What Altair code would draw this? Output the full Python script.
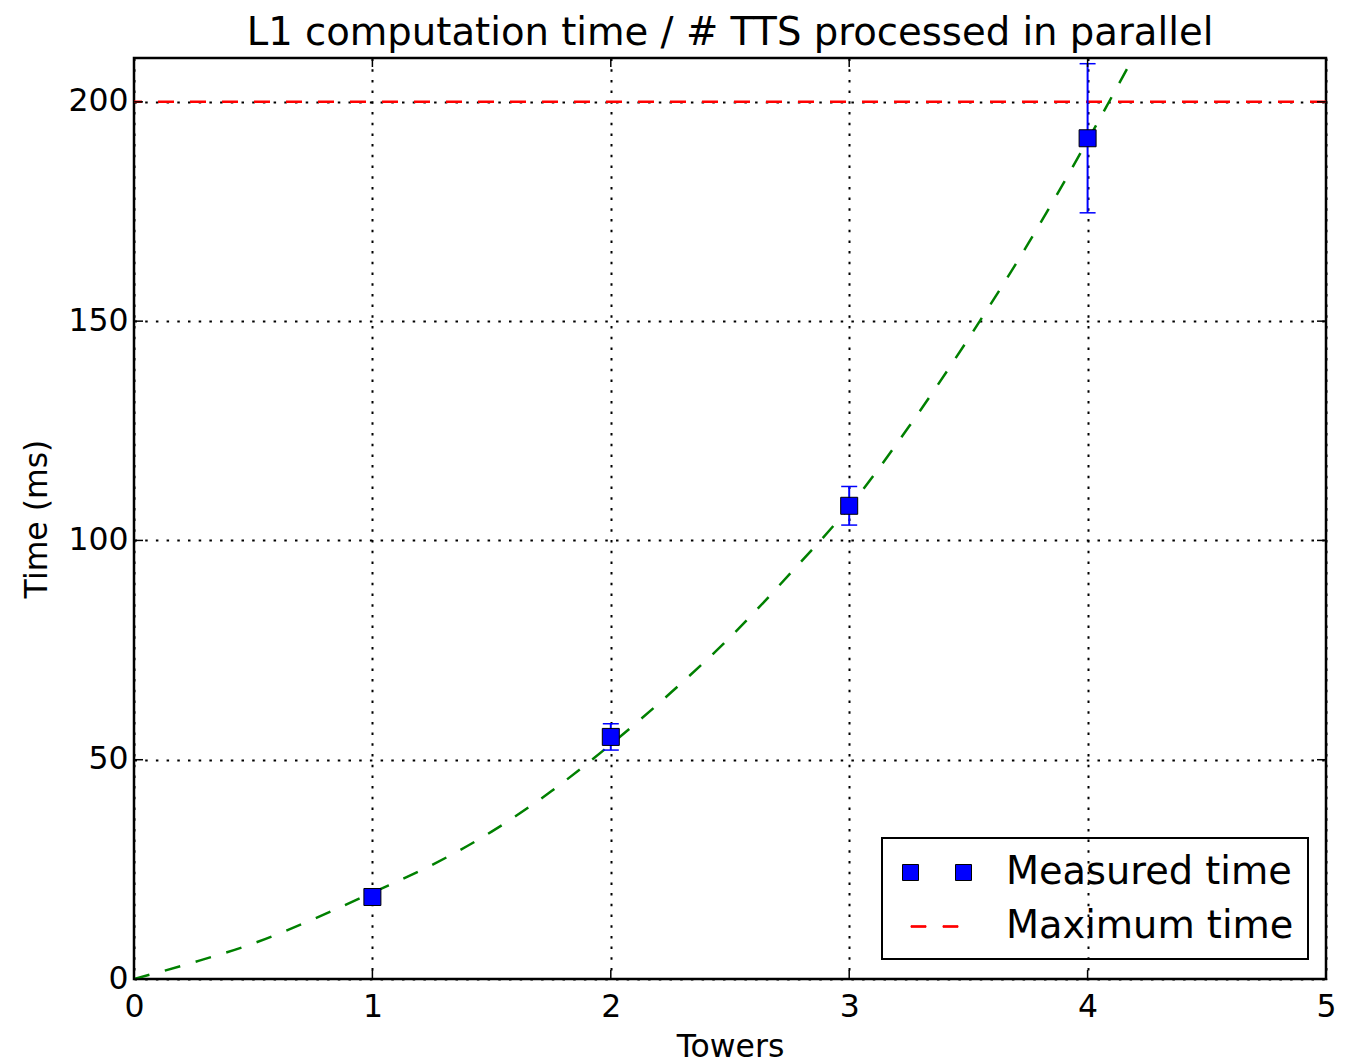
import altair as alt
import pandas as pd

# Measured points
towers = [1, 2, 3, 4]
time_ms = [18.7, 55.2, 107.9, 191.7]
time_err = [1.0, 3.0, 4.4, 17.0]

# Fitted curve
fit_x = [0, 0.25, 0.5, 0.75, 1.0, 1.25, 1.5, 1.75, 2.0, 2.25, 2.5, 2.75, 3.0,
         3.25, 3.5, 3.75, 4.0, 4.25]
fit_y = [0, 3.8, 8.1, 13.6, 19.7, 26.0, 33.6, 42.8, 53.5, 65.2, 77.9, 92.3, 107.6,
         125.9, 146.0, 167.6, 191.2, 216.0]

max_time = [200]
legend_labels = ["Measured time", "Maximum time"]
x_ticks = [0, 1, 2, 3, 4, 5]
y_ticks = [0, 50, 100, 150, 200]

W, H = 1192, 921
FONT = "DejaVu Sans"

meas = pd.DataFrame({"x": towers, "y": time_ms, "err": time_err})
meas["lo"] = meas["y"] - meas["err"]
meas["hi"] = meas["y"] + meas["err"]
fit = pd.DataFrame({"x": fit_x, "y": fit_y})
maxdf = pd.DataFrame({"y": max_time})
xt = pd.DataFrame({"x": x_ticks})
yt = pd.DataFrame({"y": y_ticks})
leg = pd.DataFrame({"series": legend_labels})

xs = alt.Scale(domain=[0, 5], nice=False, zero=False)
ys = alt.Scale(domain=[0, 210], nice=False, zero=False)
xaxis = alt.Axis(values=x_ticks, title="Towers", format="d", labelFlush=False)
yaxis = alt.Axis(values=y_ticks, title="Time (ms)", format="d", labelFlush=False)

X = alt.X("x:Q", scale=xs, axis=xaxis)
Y = alt.Y("y:Q", scale=ys, axis=yaxis)

curve = alt.Chart(fit).mark_line(
    color="#008000", strokeWidth=2.5, strokeDash=[16, 16], interpolate="monotone", clip=True
).encode(x=X, y=Y, order="x:Q")

maxline = alt.Chart(maxdf).mark_rule(
    color="#ff0000", strokeWidth=2.5, strokeDash=[16, 16]
).encode(y=Y)

ebar = alt.Chart(meas).mark_rule(color="#0000ff", strokeWidth=2).encode(
    x=X, y=alt.Y("lo:Q", scale=ys, axis=yaxis), y2="hi:Q"
)
cap_lo = alt.Chart(meas).mark_point(
    shape="stroke", size=256, color="#0000ff", strokeWidth=1.5, opacity=1, filled=False
).encode(x=X, y=alt.Y("lo:Q", scale=ys, axis=yaxis))
cap_hi = alt.Chart(meas).mark_point(
    shape="stroke", size=256, color="#0000ff", strokeWidth=1.5, opacity=1, filled=False
).encode(x=X, y=alt.Y("hi:Q", scale=ys, axis=yaxis))

pts = alt.Chart(meas).mark_point(
    shape="square", filled=True, fill="#0000ff", stroke="black", strokeWidth=1,
    size=289, opacity=1
).encode(x=X, y=Y)

TL = 9
tick_b = alt.Chart(xt).mark_rule(color="black", strokeWidth=1.5).encode(
    x=X, y=alt.value(H), y2=alt.value(H - TL))
tick_t = alt.Chart(xt).mark_rule(color="black", strokeWidth=1.5).encode(
    x=X, y=alt.value(0), y2=alt.value(TL))
tick_l = alt.Chart(yt).mark_rule(color="black", strokeWidth=1.5).encode(
    y=Y, x=alt.value(0), x2=alt.value(TL))
tick_r = alt.Chart(yt).mark_rule(color="black", strokeWidth=1.5).encode(
    y=Y, x=alt.value(W), x2=alt.value(W - TL))

sq_path = "M-0.7,-0.4H0.1V0.4H-0.7Z M1.95,-0.4H2.75V0.4H1.95Z"
dash_path = "M-0.275,-0.04H0.475V0.04H-0.275Z M1.325,-0.04H2.075V0.04H1.325Z"

legend_layer = alt.Chart(leg).transform_filter("false").mark_point(
    filled=True, opacity=1
).encode(
    color=alt.Color("series:N", scale=alt.Scale(domain=legend_labels, range=["#0000ff", "#ff0000"]),
                    legend=alt.Legend(title=None)),
    shape=alt.Shape("series:N", scale=alt.Scale(domain=legend_labels, range=[sq_path, dash_path]),
                    legend=alt.Legend(title=None)),
    stroke=alt.Stroke("series:N", scale=alt.Scale(domain=legend_labels, range=["black", "#ff0000"]),
                      legend=alt.Legend(title=None)),
)

chart = alt.layer(
    maxline, curve, ebar, cap_lo, cap_hi, pts, tick_b, tick_t, tick_l, tick_r, legend_layer
).properties(
    width=W, height=H,
    padding={"left": 126, "top": 50, "right": 30, "bottom": 100},
    autosize=alt.AutoSizeParams(type="none"),
    title=alt.Title("L1 computation time / # TTS processed in parallel", fontSize=38.6,
                    font=FONT, fontWeight="normal", color="black", offset=5, dy=39,
                    baseline="bottom", anchor="middle"),
).configure(font=FONT).configure_view(
    stroke="black", strokeWidth=2.5
).configure_axis(
    grid=True, gridColor="black", gridDash=[2.5, 8.2], gridWidth=2, gridOpacity=1,
    ticks=False, domain=False, labelFont=FONT, labelFontSize=31.5, labelColor="black",
    titleFont=FONT, titleFontSize=31.5, titleFontWeight="normal", titleColor="black",
).configure_axisX(
    labelPadding=12, titlePadding=9
).configure_axisY(
    labelPadding=6, titlePadding=14
).configure_legend(
    orient="none", legendX=748, legendY=780, labelFont=FONT, labelFontSize=38.3,
    labelColor="black", symbolSize=1600, symbolStrokeWidth=1, symbolOpacity=1,
    labelOffset=69, padding=14, rowPadding=15, strokeColor="black", strokeWidth=2,
    labelLimit=400,
)

chart.save("out.html", embed_options={"renderer": "svg", "actions": False})
